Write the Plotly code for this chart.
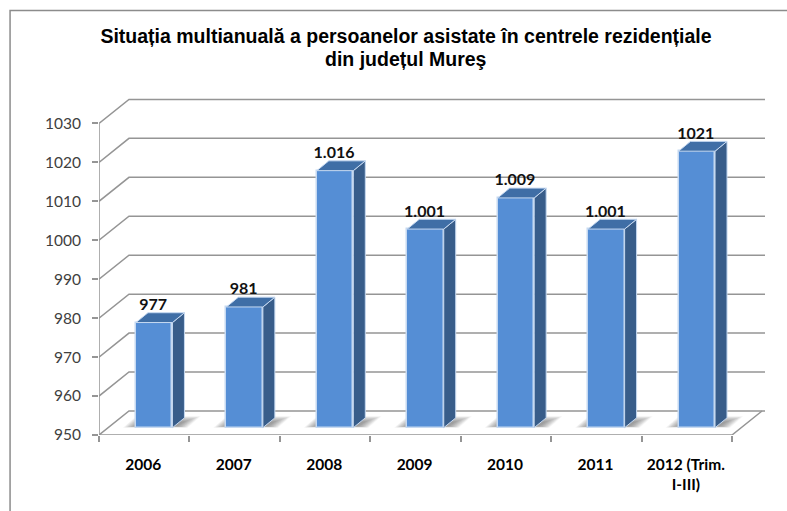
import numpy as np
import plotly.graph_objects as go

# ---- data ----
categories = ["2006", "2007", "2008", "2009", "2010", "2011", "2012 (Trim.<br>I-III)"]
values = [977, 981, 1016, 1001, 1009, 1001, 1021]
value_labels = ["977", "981", "1.016", "1.001", "1.009", "1.001", "1021"]
y_ticks = [950, 960, 970, 980, 990, 1000, 1010, 1020, 1030]
title_lines = ["Situația multianuală a persoanelor asistate în centrele rezidențiale", "din județul Mureş"]

# ---- geometry (pixels of the page) ----
W, H = 787, 511
X0, Y0 = 98.5, 434.6          # axis origin
UX, UY = 90.5, 3.89           # px per category, px per value unit
RIGHT, TOP = 770, 95
dx = lambda p: p / UX
dy = lambda p: p / UY
BACK_X, BACK_Y = dx(30), dy(24)
END_BACK = dx(765 - X0)
y_base = y_ticks[0]
LIFT = dy(7.3)
BAR_OFF, BAR_W = dx(37), dx(36.5)
SIDE_X, SIDE_Y = dx(12), dy(9.8)

GRID = "#959595"
FRONT, SIDE, TOPC, EDGE = "#558ED5", "#385D8A", "#3F6EA6", "#C6D9F1"

n = len(values)
lefts = np.arange(n) + BAR_OFF
centers = lefts + BAR_W / 2
rights = lefts + BAR_W
vals = np.array(values, dtype=float)
tops = vals + LIFT
bottom = y_base + LIFT

shapes = []
# walls and grid
for t in y_ticks:
    shapes.append(dict(type="path", layer="below", xref="x", yref="y",
                       path=f"M 0 {t} L {BACK_X} {t + BACK_Y} L {END_BACK} {t + BACK_Y}",
                       line=dict(color=GRID, width=1.5)))
# floor shadows: nested layers give the soft gradient
levels = 14
for i in range(n):
    for k in range(levels):
        f = 1 - k / levels
        yb = bottom + dy(4) * (1 - f) * 0.4
        h = 5.5 + 6 * f
        yt = bottom + dy(h)
        sk = dx(h * 1.15)
        xl = lefts[i] - dx(13) * f
        xr = rights[i] + dx(4 + 11 * f)
        shapes.append(dict(type="path", layer="below", xref="x", yref="y",
                           path=f"M {xl} {yb} L {xr} {yb} L {xr + sk} {yt} L {xl + sk} {yt} Z",
                           fillcolor="rgba(70,70,70,0.05)", line=dict(width=0)))
# outer frame
px = lambda p: (p - X0) / (RIGHT - X0)
py = lambda p: (Y0 - p) / (Y0 - TOP)
shapes.append(dict(type="path", xref="paper", yref="paper",
                   path=f"M {px(9.5)} {py(515)} L {px(9.5)} {py(10.5)} L {px(790)} {py(10.5)}",
                   line=dict(color="#8C8C8C", width=1.5)))

fig = go.Figure()
fig.add_trace(go.Bar(x=centers, y=vals - y_base, base=bottom, width=BAR_W,
                     marker=dict(color=FRONT, line=dict(color=EDGE, width=1.5)),
                     hoverinfo="skip", showlegend=False))

# side and top faces
sx, sy, tx, ty = [], [], [], []
for i in range(n):
    r, l, t = rights[i], lefts[i], tops[i]
    sx += [r, r + SIDE_X, r + SIDE_X, r, r, None]
    sy += [bottom, bottom + SIDE_Y, t + SIDE_Y, t, bottom, None]
    tx += [l, r, r + SIDE_X, l + SIDE_X, l, None]
    ty += [t, t, t + SIDE_Y, t + SIDE_Y, t, None]
for fx, fy, col in ((sx, sy, SIDE), (tx, ty, TOPC)):
    fig.add_trace(go.Scatter(x=fx, y=fy, mode="lines", fill="toself", fillcolor=col,
                             line=dict(color=EDGE, width=1), hoverinfo="skip", showlegend=False))

# front floor edge and vertical axis line
fig.add_trace(go.Scatter(x=[0, 0, n, n + BACK_X],
                         y=[y_ticks[-1], y_base, y_base, y_base + BACK_Y], mode="lines",
                         line=dict(color=GRID, width=1.5), cliponaxis=False,
                         hoverinfo="skip", showlegend=False))

# value labels
fig.add_trace(go.Scatter(x=centers - dx(1), y=tops + dy(16.5), mode="text", text=value_labels,
                         textposition="middle center", cliponaxis=False,
                         textfont=dict(family="Lato", size=16, color="#111111", weight="bold"),
                         hoverinfo="skip", showlegend=False))

fig.update_layout(
    width=W, height=H, autosize=False,
    margin=dict(l=X0, r=W - RIGHT, t=TOP, b=H - Y0, pad=0),
    paper_bgcolor="white", plot_bgcolor="white", shapes=shapes, bargap=0,
    title=dict(text=title_lines[0], x=406 / W, xanchor="center",
               y=1 - 36.5 / H, yanchor="middle",
               font=dict(family="Liberation Sans", size=19.5, color="black", weight="bold")),
    annotations=[dict(text=title_lines[1], xref="paper", yref="paper", x=px(406), y=py(59),
                      xanchor="center", yanchor="middle", showarrow=False,
                      font=dict(family="Liberation Sans", size=19.5, color="black", weight="bold"))],
    xaxis=dict(range=[0, dx(RIGHT - X0)], tickmode="array",
               tickvals=list(np.arange(n) + 0.49), ticktext=categories,
               ticks="", ticklabelstandoff=18, showgrid=False, zeroline=False, showline=False,
               tickfont=dict(family="Lato", size=15.5, color="black", weight="bold"),
               minor=dict(tickmode="array", tickvals=list(range(n + 1)), ticks="outside", ticklen=6,
                          tickcolor=GRID, tickwidth=1.5, showgrid=False)),
    yaxis=dict(range=[y_base, y_base + dy(Y0 - TOP)], tickmode="array", tickvals=y_ticks,
               ticks="outside", ticklen=6, tickcolor=GRID, tickwidth=1.5, ticklabelstandoff=8,
               showline=False, showgrid=False, zeroline=False,
               tickfont=dict(family="Lato", size=15.5, color="#404040")),
)
fig.write_html("out.html", post_script="document.body.style.margin='0';",
               config=dict(displayModeBar=False))
